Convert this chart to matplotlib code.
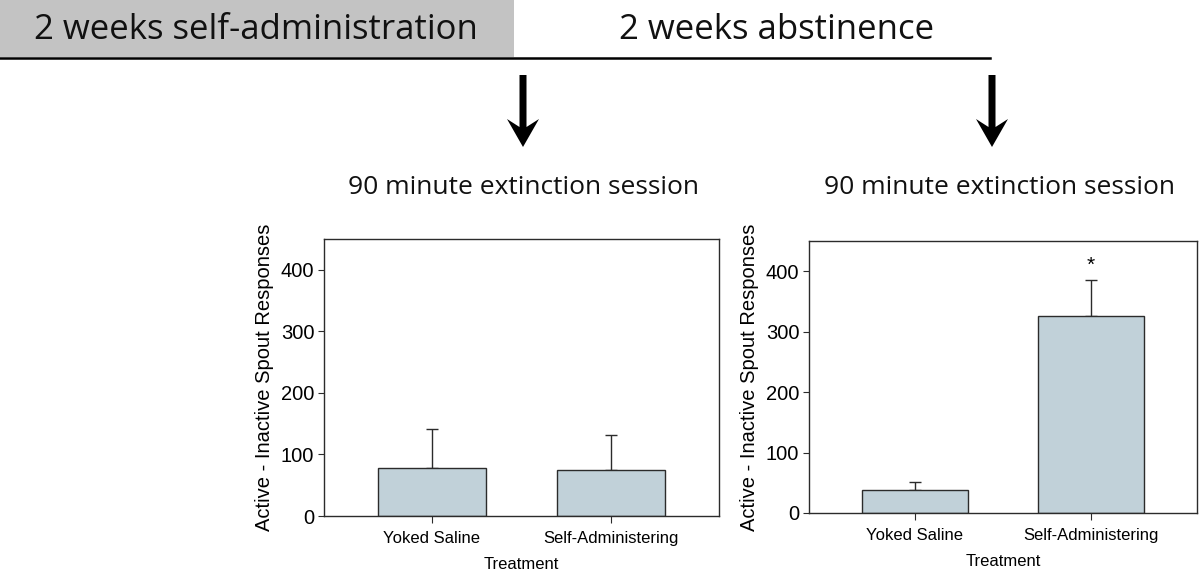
import matplotlib
matplotlib.use('Agg')
import matplotlib.pyplot as plt
from matplotlib.patches import Polygon, Rectangle
import numpy as np

plt.rcParams['font.family'] = ['Liberation Sans', 'DejaVu Sans']

# data
groups = ['Yoked Saline', 'Self-Administering']
means_acq = [78, 75]        # 90 min extinction right after self-administration
sem_acq = [63, 57]
means_abs = [38, 326]       # 90 min extinction after 2 weeks abstinence
sem_abs = [13, 59]
star_y = 409
yticks = [0, 100, 200, 300, 400]

bar_col = '#c1d1d9'
edge_col = '#2b2b2b'
title_font = ['Open Sans', 'DejaVu Sans']

fig = plt.figure(figsize=(12, 5.78), dpi=100)

# overlay in pixel units for the timeline header
ov = fig.add_axes([0, 0, 1, 1])
ov.set_xlim(0, 1200)
ov.set_ylim(578, 0)
ov.axis('off')
ov.add_patch(Rectangle((0, 0), 514, 57, facecolor='#c3c3c3', edgecolor='none'))
ov.plot([0, 990], [58, 58], color='black', lw=1.8)
ov.text(256, 30, '2 weeks self-administration', ha='center', va='center',
        fontsize=25, family=title_font, color='#111111')
ov.text(777, 30, '2 weeks abstinence', ha='center', va='center',
        fontsize=25, family=title_font, color='#111111')


def arrow(xa, y0=75, y1=147):
    # shaft plus a slightly barbed head
    pts = [(xa - 3.5, y0), (xa + 3.5, y0), (xa + 3.5, y1 - 20),
           (xa + 16, y1 - 28), (xa, y1), (xa - 16, y1 - 28), (xa - 3.5, y1 - 20)]
    ov.add_patch(Polygon(pts, closed=True, facecolor='black', edgecolor='none'))


arrow(523)
arrow(992)
ov.text(523, 187, '90 minute extinction session', ha='center', va='center',
        fontsize=19, family=title_font, color='#111111')
ov.text(999, 187, '90 minute extinction session', ha='center', va='center',
        fontsize=19, family=title_font, color='#111111')


def panel(rect, means, sems):
    ax = fig.add_axes(rect)
    x = np.arange(len(groups))
    ax.bar(x, means, width=0.6, color=bar_col, edgecolor=edge_col, linewidth=1, zorder=2)
    ax.errorbar(x, means, yerr=[np.zeros(len(sems)), sems], fmt='none',
                ecolor=edge_col, elinewidth=1, capsize=4, capthick=1, zorder=1)
    ax.set_xlim(-0.6, 1.6)
    ax.set_ylim(0, 450)
    ax.set_yticks(yticks)
    ax.set_xticks(x)
    ax.set_xticklabels(groups, fontsize=12)
    ax.tick_params(axis='y', labelsize=14.5, length=4, color=edge_col, pad=3)
    ax.tick_params(axis='x', length=5, color=edge_col, pad=6)
    ax.set_xlabel('Treatment', fontsize=12, labelpad=8)
    ax.set_ylabel('Active - Inactive Spout Responses', fontsize=14.5, labelpad=5)
    for s in ax.spines.values():
        s.set_color(edge_col)
        s.set_linewidth(1)
    return ax


panel([324 / 1200, 62 / 578, 395 / 1200, 277 / 578], means_acq, sem_acq)
ax2 = panel([809 / 1200, 65 / 578, 388 / 1200, 272 / 578], means_abs, sem_abs)
ax2.text(1, star_y, '*', ha='center', va='center', fontsize=15)

fig.savefig('out.png', dpi=100)
